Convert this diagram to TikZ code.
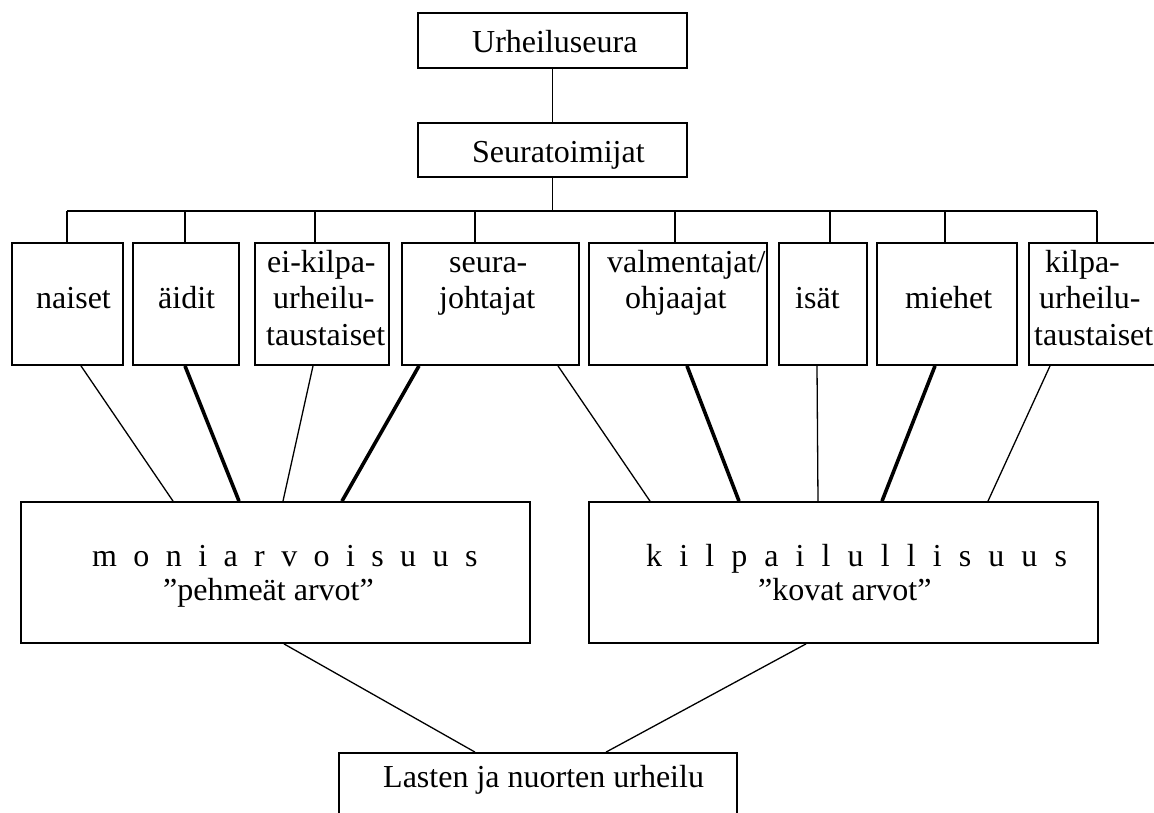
\documentclass[tikz,border=0pt]{standalone}
\usepackage{fontspec}
\setmainfont{Liberation Serif}
\usetikzlibrary{fit}
\begin{document}
\begin{tikzpicture}[x=1pt,y=-1pt,
  box/.style={draw, line width=1.8pt, inner sep=0pt, rectangle},
  lbl/.style={anchor=base west, inner sep=0pt, font=\fontsize{32}{38}\selectfont},
  busline/.style={line width=1.8pt},
  thinlink/.style={line width=1.3pt},
  heavylink/.style={line width=3.6pt}]
\useasboundingbox (0,0) rectangle (1154,812);
\fill[white] (0,0) rectangle (1154,812);
\clip (0,0) rectangle (1154,812);

% top boxes
\node[box, fit={(418,13) (687,68)}] (ur) {};
\node[box, fit={(418,123) (687,177)}] (st) {};
\node[lbl] (t-ur) at (472,52) {Urheiluseura};
\node[lbl] (t-st) at (472,162) {Seuratoimijat};

% row of boxes
\node[box, fit={(12,243) (123,365)}] (nai) {};
\node[box, fit={(133,243) (239,365)}] (aid) {};
\node[box, fit={(255,243) (389,365)}] (eik) {};
\node[box, fit={(402,243) (579,365)}] (sej) {};
\node[box, fit={(589,243) (767,365)}] (val) {};
\node[box, fit={(779,243) (867,365)}] (isa) {};
\node[box, fit={(877,243) (1017,365)}] (mie) {};
\node[box, fit={(1029,243) (1168,365)}] (kil) {};

\node[lbl] (t-nai) at (36,308) {naiset};
\node[lbl] (t-aid) at (158,308) {äidit};
\node[lbl] (t-eik1) at (267,272) {ei-kilpa-};
\node[lbl] (t-eik2) at (273,308) {urheilu-};
\node[lbl] (t-eik3) at (266,345) {taustaiset};
\node[lbl] (t-sej1) at (449,272) {seura-};
\node[lbl] (t-sej2) at (439,308) {johtajat};
\node[lbl] (t-val1) at (607,272) {valmentajat/};
\node[lbl] (t-val2) at (625,308) {ohjaajat};
\node[lbl] (t-isa) at (795,308) {isät};
\node[lbl] (t-mie) at (905,308) {miehet};
\node[lbl] (t-kil1) at (1045,272) {kilpa-};
\node[lbl] (t-kil2) at (1039,308) {urheilu-};
\node[lbl] (t-kil3) at (1034,345) {taustaiset};

% big boxes
\node[box, fit={(21,502) (530,643)}] (mon) {};
\node[box, fit={(589,502) (1098,643)}] (kps) {};
\node[lbl] (t-mon1) at (92,566) {\spaceskip=16.4pt plus 0pt minus 0pt\relax m o n i a r v o i s u u s};
\node[lbl] (t-mon2) at (163,600) {”pehmeät arvot”};
\node[lbl] (t-kps1) at (646,566) {\spaceskip=17.1pt plus 0pt minus 0pt\relax k i l p a i l u l l i s u u s};
\node[lbl] (t-kps2) at (758,600) {”kovat arvot”};

% bottom box
\node[box, fit={(339,753) (737,840)}] (las) {};
\node[lbl] (t-las) at (383,787) {Lasten ja nuorten urheilu};

% tree connectors
\coordinate (busL) at (67,211);
\coordinate (busR) at (1097,211);
\draw[busline] (ur.south) -- (st.north);
\draw[busline] (st.south) -- (st.south |- busL);
\draw[busline] (busL) -- (busR);
\draw[busline] (67,0 |- busL) -- (67,0 |- nai.north);
\draw[busline] (185,0 |- busL) -- (185,0 |- aid.north);
\draw[busline] (315,0 |- busL) -- (315,0 |- eik.north);
\draw[busline] (475,0 |- busL) -- (475,0 |- sej.north);
\draw[busline] (675,0 |- busL) -- (675,0 |- val.north);
\draw[busline] (830,0 |- busL) -- (830,0 |- isa.north);
\draw[busline] (945,0 |- busL) -- (945,0 |- mie.north);
\draw[busline] (1097,0 |- busL) -- (1097,0 |- kil.north);

% links to value boxes
\draw[thinlink]  (81,0 |- nai.south)  -- (173,0 |- mon.north);
\draw[heavylink] (185,0 |- aid.south) -- (239,0 |- mon.north);
\draw[thinlink]  (313,0 |- eik.south) -- (283,0 |- mon.north);
\draw[heavylink] (419,0 |- sej.south) -- (342,0 |- mon.north);
\draw[thinlink]  (558,0 |- sej.south) -- (650,0 |- kps.north);
\draw[heavylink] (687,0 |- val.south) -- (739,0 |- kps.north);
\draw[thinlink]  (817,0 |- isa.south) -- (818,0 |- kps.north);
\draw[heavylink] (935,0 |- mie.south) -- (882,0 |- kps.north);
\draw[thinlink]  (1050,0 |- kil.south) -- (988,0 |- kps.north);

% links to bottom box
\draw[thinlink] (284,0 |- mon.south) -- (475,0 |- las.north);
\draw[thinlink] (806,0 |- kps.south) -- (606,0 |- las.north);
\end{tikzpicture}
\end{document}
